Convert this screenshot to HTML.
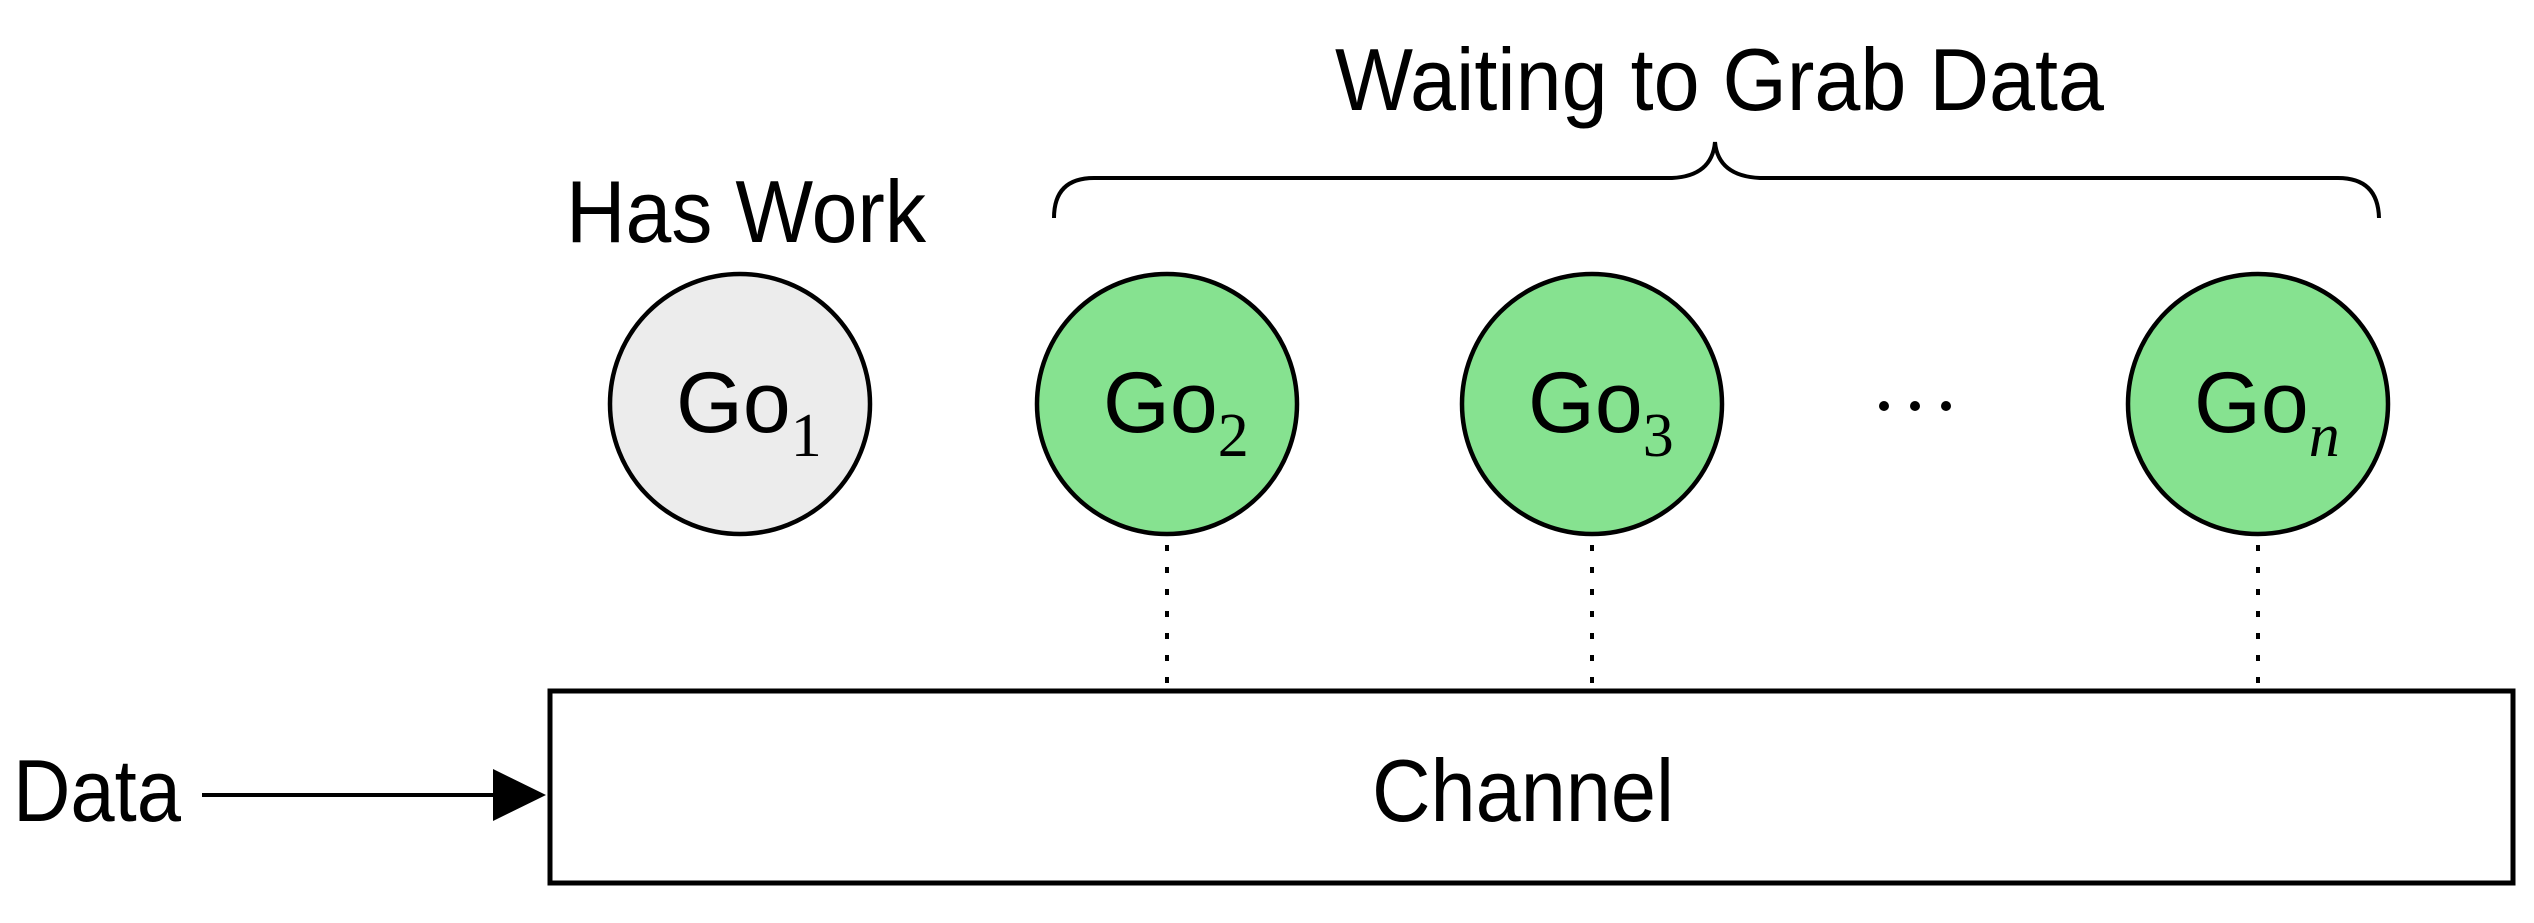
<!DOCTYPE html>
<html><head><meta charset="utf-8"><style>html,body{margin:0;padding:0;background:#fff}svg{display:block}</style></head>
<body>
<svg width="2534" height="923" viewBox="0 0 2534 923" xmlns="http://www.w3.org/2000/svg" font-family="Liberation Sans, sans-serif">
<rect width="2534" height="923" fill="#fff"/>
<text x="1335" y="110" font-size="88" textLength="769" lengthAdjust="spacingAndGlyphs">Waiting to Grab Data</text>
<text x="566" y="242" font-size="88" textLength="360" lengthAdjust="spacingAndGlyphs">Has Work</text>
<path d="M1054 218 Q1054 178 1094 178 L1672 178 Q1712 176 1715 142 Q1718 176 1760 178 L2338 178 Q2378 178 2379 218" fill="none" stroke="#000" stroke-width="4"/>
<g stroke="#000" stroke-width="4.5">
<circle cx="740" cy="404" r="130" fill="#ececec"/>
<circle cx="1167" cy="404" r="130" fill="#86e290"/>
<circle cx="1592" cy="404" r="130" fill="#86e290"/>
<circle cx="2258" cy="404" r="130" fill="#86e290"/>
</g>
<g font-size="86">
<text x="676" y="432">Go<tspan font-family="Liberation Serif, serif" font-size="62" dy="24">1</tspan></text>
<text x="1103" y="432">Go<tspan font-family="Liberation Serif, serif" font-size="62" dy="24">2</tspan></text>
<text x="1528" y="432">Go<tspan font-family="Liberation Serif, serif" font-size="62" dy="24">3</tspan></text>
<text x="2194" y="432">Go<tspan font-family="Liberation Serif, serif" font-style="italic" font-size="62" dy="24">n</tspan></text>
</g>
<g fill="#000"><circle cx="1884" cy="406" r="5"/><circle cx="1915" cy="406" r="5"/><circle cx="1946" cy="406" r="5"/></g>
<g stroke="#000" stroke-width="4" stroke-dasharray="6 16">
<line x1="1167" y1="545" x2="1167" y2="690"/>
<line x1="1592" y1="545" x2="1592" y2="690"/>
<line x1="2258" y1="545" x2="2258" y2="690"/>
</g>
<rect x="550" y="691" width="1963" height="192" fill="#fff" stroke="#000" stroke-width="5"/>
<text x="1372" y="821" font-size="88" textLength="302" lengthAdjust="spacingAndGlyphs">Channel</text>
<text x="13" y="821" font-size="88" textLength="168" lengthAdjust="spacingAndGlyphs">Data</text>
<line x1="202" y1="795" x2="500" y2="795" stroke="#000" stroke-width="4"/>
<polygon points="493,769 546,795 493,821" fill="#000"/>
</svg>
</body></html>
